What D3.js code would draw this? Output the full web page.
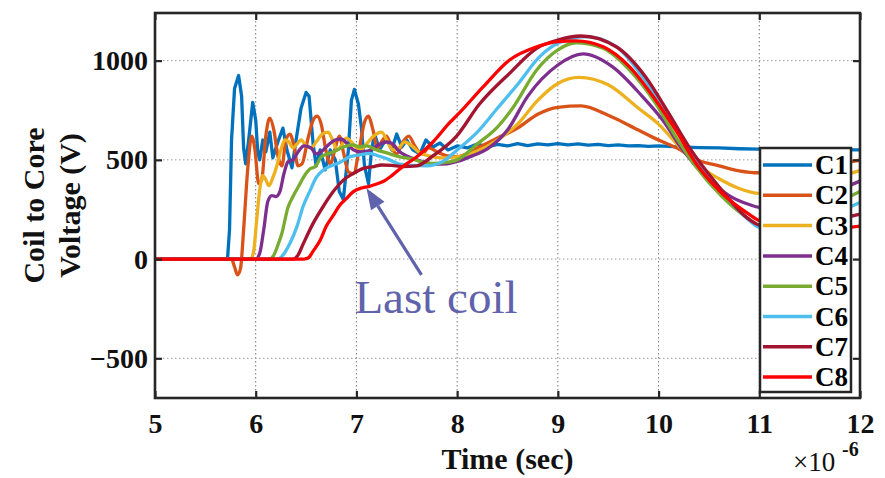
<!DOCTYPE html>
<html>
<head>
<meta charset="utf-8">
<script src="https://cdn.jsdelivr.net/npm/d3@7"></script>
<style>
  body { margin: 0; background: #fff; }
  svg { display: block; }
  text { font-family: "Liberation Serif", "Times New Roman", serif; }
</style>
</head>
<body>
<svg id="chart" width="885" height="478"></svg>
<script>
// time in microseconds, voltage in volts
var c1 = [[5.00,0],[5.72,0],[5.74,150],[5.76,600],[5.79,860],[5.83,925],[5.86,820],[5.88,560],[5.90,480],[5.93,600],[5.97,790],[6.00,700],[6.02,540],[6.04,500],[6.07,600],[6.10,540],[6.14,640],[6.17,510],[6.22,590],[6.27,660],[6.31,550],[6.36,460],[6.41,630],[6.45,760],[6.50,840],[6.53,820],[6.57,580],[6.60,470],[6.64,550],[6.69,450],[6.74,550],[6.79,500],[6.83,340],[6.87,300],[6.92,550],[6.95,800],[6.98,855],[7.02,780],[7.05,660],[7.08,470],[7.12,380],[7.15,550],[7.18,630],[7.23,550],[7.30,610],[7.35,550],[7.40,630],[7.45,565],[7.50,600],[7.56,550],[7.63,530],[7.69,600],[7.76,565],[7.83,585],[7.91,550],[8.0,570],[8.1,560],[8.2,580],[8.3,565],[8.4,578],[8.5,570],[8.6,582],[8.7,572],[8.8,580],[8.9,575],[9.0,582],[9.1,576],[9.2,580],[9.3,574],[9.4,578],[9.5,572],[9.6,575],[9.7,570],[9.8,572],[9.9,568],[10.0,570],[10.2,565],[10.4,562],[10.6,560],[10.8,556],[11.0,554],[11.5,552],[12.0,550]];
var c2 = [[5,0],[5.76,0],[5.79,-40],[5.82,-80],[5.85,-45],[5.88,150],[5.92,450],[5.96,620],[5.99,560],[6.03,380],[6.06,400],[6.10,620],[6.14,710],[6.18,650],[6.22,520],[6.26,470],[6.30,600],[6.34,630],[6.38,570],[6.42,470],[6.46,480],[6.52,610],[6.57,700],[6.61,720],[6.65,680],[6.70,540],[6.74,480],[6.79,560],[6.83,620],[6.87,540],[6.92,440],[6.97,430],[7.03,560],[7.08,690],[7.12,720],[7.16,660],[7.21,560],[7.26,600],[7.30,620],[7.35,560],[7.40,530],[7.46,590],[7.52,620],[7.58,570],[7.65,530],[7.72,560],[7.80,540],[7.90,520],[8.0,516],[8.2,560],[8.4,610],[8.6,660],[8.8,730],[9.0,765],[9.23,772],[9.5,725],[9.8,650],[10.0,600],[10.2,555],[10.4,497],[10.6,470],[10.8,445],[11.0,435],[11.3,445],[11.6,470],[12.0,498]];
var c3 = [[5,0],[5.95,0],[5.98,40],[6.01,200],[6.04,350],[6.07,420],[6.10,400],[6.13,370],[6.17,410],[6.21,470],[6.25,550],[6.29,600],[6.33,590],[6.37,560],[6.41,580],[6.45,600],[6.50,570],[6.55,560],[6.60,590],[6.66,630],[6.72,640],[6.77,590],[6.81,550],[6.86,580],[6.90,610],[6.95,590],[7.00,560],[7.05,555],[7.10,580],[7.17,620],[7.25,640],[7.31,590],[7.36,550],[7.42,560],[7.48,590],[7.55,570],[7.63,535],[7.72,520],[7.85,510],[8.0,515],[8.2,545],[8.4,600],[8.6,680],[8.8,800],[9.0,885],[9.21,916],[9.5,878],[9.8,760],[10.0,680],[10.2,570],[10.4,470],[10.6,405],[10.8,356],[11.0,331],[11.3,330],[11.6,380],[12.0,447]];
var c4 = [[5,0],[6.00,0],[6.04,30],[6.08,150],[6.12,290],[6.16,320],[6.20,315],[6.24,340],[6.28,430],[6.32,490],[6.37,500],[6.42,540],[6.48,570],[6.55,560],[6.60,530],[6.66,545],[6.72,575],[6.79,600],[6.85,605],[6.91,580],[6.97,550],[7.04,540],[7.12,545],[7.20,570],[7.30,590],[7.36,580],[7.42,545],[7.50,520],[7.60,500],[7.70,485],[7.80,478],[7.90,480],[8.0,492],[8.15,520],[8.3,555],[8.5,650],[8.7,820],[9.0,978],[9.25,1034],[9.54,970],[9.84,819],[10.04,701],[10.24,550],[10.47,416],[10.7,320],[10.9,275],[11.0,261],[11.3,255],[11.6,310],[12.0,393]];
var c5 = [[5,0],[6.14,0],[6.18,20],[6.22,70],[6.26,130],[6.32,260],[6.37,315],[6.44,380],[6.49,425],[6.54,455],[6.59,465],[6.65,515],[6.71,530],[6.77,540],[6.87,565],[6.97,575],[7.03,565],[7.10,570],[7.20,550],[7.30,535],[7.43,515],[7.55,505],[7.65,490],[7.76,482],[7.90,488],[8.0,500],[8.2,580],[8.4,665],[8.55,760],[8.79,953],[9.0,1054],[9.18,1090],[9.45,1062],[9.71,953],[9.97,785],[10.17,617],[10.37,466],[10.63,315],[10.9,200],[11.0,168],[11.3,160],[11.6,240],[12.0,340]];
var c6 = [[5,0],[6.22,0],[6.27,20],[6.34,80],[6.41,165],[6.47,265],[6.54,345],[6.60,410],[6.67,448],[6.77,474],[6.83,485],[6.93,515],[7.03,525],[7.13,533],[7.23,518],[7.33,500],[7.43,478],[7.56,472],[7.70,470],[7.85,490],[8.0,550],[8.2,640],[8.4,760],[8.6,880],[8.82,1020],[9.0,1087],[9.28,1121],[9.58,1070],[9.84,919],[10.04,768],[10.24,600],[10.47,433],[10.7,299],[10.9,195],[11.0,160],[11.3,150],[11.6,200],[12.0,285]];
var c7 = [[5,0],[6.37,0],[6.42,20],[6.47,75],[6.57,180],[6.67,265],[6.77,340],[6.87,398],[6.97,432],[7.07,457],[7.17,466],[7.25,474],[7.35,472],[7.46,466],[7.60,470],[7.76,520],[7.99,617],[8.22,780],[8.52,936],[8.79,1062],[9.0,1104],[9.23,1124],[9.58,1070],[9.87,919],[10.1,735],[10.3,567],[10.57,383],[10.9,200],[11.0,171],[11.3,150],[11.6,180],[12.0,227]];
var c8 = [[5,0],[6.48,0],[6.52,5],[6.57,40],[6.64,95],[6.70,165],[6.77,220],[6.84,275],[6.90,305],[6.97,340],[7.05,358],[7.12,365],[7.2,378],[7.27,392],[7.36,424],[7.46,466],[7.6,516],[7.76,590],[7.93,690],[8.0,725],[8.26,869],[8.52,1003],[8.79,1070],[9.0,1096],[9.18,1100],[9.45,1070],[9.71,970],[9.97,802],[10.17,651],[10.37,483],[10.63,332],[10.9,225],[11.0,193],[11.3,160],[11.6,150],[12.0,166]];

var seriesData = [c1, c2, c3, c4, c5, c6, c7, c8];
var seriesNames = ["C1", "C2", "C3", "C4", "C5", "C6", "C7", "C8"];
var seriesColors = ["#0072BD", "#D95319", "#EDB120", "#7E2F8E", "#77AC30", "#4DBEEE", "#A2142F", "#FF0000"];
var xTicks = [5, 6, 7, 8, 9, 10, 11, 12];
var yTicks = [-500, 0, 500, 1000];

// plot box (don't call these top/left: window.top is read-only)
var boxLeft = 155, boxRight = 860, boxTop = 13, boxBottom = 398;
var axisColor = "#262626";

var svg = d3.select("#chart");

var x = d3.scaleLinear().domain([5, 12]).range([boxLeft, boxRight]);
var y = d3.scaleLinear().domain([-700, 1240]).range([boxBottom, boxTop]);

// grid
var grid = svg.append("g");
grid.selectAll(".vgrid")
  .data(xTicks.slice(1, -1))
  .join("line")
  .attr("x1", d => x(d)).attr("x2", d => x(d))
  .attr("y1", boxTop).attr("y2", boxBottom)
  .attr("stroke", "#7a7a7a")
  .attr("stroke-width", 1)
  .attr("stroke-dasharray", "1.5,2.5");
grid.selectAll(".hgrid")
  .data(yTicks)
  .join("line")
  .attr("x1", boxLeft).attr("x2", boxRight)
  .attr("y1", d => y(d)).attr("y2", d => y(d))
  .attr("stroke", "#9a9a9a")
  .attr("stroke-width", 1)
  .attr("stroke-dasharray", "1.5,2.5");

// curves, C1 first so C8 ends on top
var smooth = d3.line()
  .x(d => x(d[0]))
  .y(d => y(d[1]))
  .curve(d3.curveMonotoneX);
var sharp = d3.line()
  .x(d => x(d[0]))
  .y(d => y(d[1]));

svg.append("g")
  .selectAll("path")
  .data(seriesData)
  .join("path")
  .attr("fill", "none")
  .attr("stroke", (d, i) => seriesColors[i])
  .attr("stroke-width", 3.3)
  .attr("stroke-linejoin", "round")
  .attr("d", (d, i) => i === 0 ? sharp(d) : smooth(d));

// annotation
var tip = [x(7.1), y(357)], tail = [x(7.646), y(-80)];
var ang = Math.atan2(tip[1] - tail[1], tip[0] - tail[0]);
var headLen = 21, headHalf = 8;
var base = [tip[0] - headLen * Math.cos(ang), tip[1] - headLen * Math.sin(ang)];
var annColor = "#5f63ab";
svg.append("line")
  .attr("x1", tail[0]).attr("y1", tail[1])
  .attr("x2", base[0]).attr("y2", base[1])
  .attr("stroke", annColor)
  .attr("stroke-width", 3.2);
svg.append("path")
  .attr("d", "M" + tip[0] + "," + tip[1] +
    "L" + (base[0] + headHalf * Math.sin(ang)) + "," + (base[1] - headHalf * Math.cos(ang)) +
    "L" + (base[0] - headHalf * Math.sin(ang)) + "," + (base[1] + headHalf * Math.cos(ang)) + "Z")
  .attr("fill", annColor);
svg.append("text")
  .attr("x", x(6.98))
  .attr("y", y(-272))
  .attr("fill", annColor)
  .style("font-size", "47px")
  .text("Last coil");

// legend
var legend = svg.append("g").attr("transform", "translate(760,148)");
legend.append("rect")
  .attr("width", 91).attr("height", 244)
  .attr("fill", "#fff")
  .attr("stroke", axisColor)
  .attr("stroke-width", 2.5);
var item = legend.selectAll(".item")
  .data(seriesNames)
  .join("g")
  .attr("transform", (d, i) => "translate(0," + (17 + i * 30.3) + ")");
item.append("line")
  .attr("x1", 3).attr("x2", 52)
  .attr("stroke", (d, i) => seriesColors[i])
  .attr("stroke-width", 3.5);
item.append("text")
  .attr("x", 55)
  .attr("dy", "0.34em")
  .style("font-size", "27px")
  .style("font-weight", "bold")
  .text(d => d);

// axes with inward ticks on all four sides
function styleAxis(g) {
  g.select(".domain").remove();
  g.selectAll(".tick line").attr("stroke", axisColor).attr("stroke-width", 2.2);
  g.selectAll(".tick text")
    .attr("fill", "#111")
    .style("font-family", "'Liberation Serif', serif")
    .style("font-size", "28px")
    .style("font-weight", "bold");
}
var fmt = d3.format("d");
svg.append("g")
  .attr("transform", "translate(0," + boxBottom + ")")
  .call(d3.axisBottom(x).tickValues(xTicks).tickFormat(fmt).tickSizeInner(-7).tickSizeOuter(0).tickPadding(15))
  .call(styleAxis);
svg.append("g")
  .attr("transform", "translate(0," + boxTop + ")")
  .call(d3.axisTop(x).tickValues(xTicks).tickSizeInner(-7).tickSizeOuter(0).tickFormat(""))
  .call(styleAxis);
svg.append("g")
  .attr("transform", "translate(" + boxLeft + ",0)")
  .call(d3.axisLeft(y).tickValues(yTicks).tickFormat(fmt).tickSizeInner(-7).tickSizeOuter(0).tickPadding(7))
  .call(styleAxis);
svg.append("g")
  .attr("transform", "translate(" + boxRight + ",0)")
  .call(d3.axisRight(y).tickValues(yTicks).tickSizeInner(-7).tickSizeOuter(0).tickFormat(""))
  .call(styleAxis);

svg.append("rect")
  .attr("x", boxLeft).attr("y", boxTop)
  .attr("width", boxRight - boxLeft).attr("height", boxBottom - boxTop)
  .attr("fill", "none")
  .attr("stroke", axisColor)
  .attr("stroke-width", 2.6);

// labels
svg.append("text")
  .attr("x", (boxLeft + boxRight) / 2)
  .attr("y", 469)
  .attr("text-anchor", "middle")
  .attr("fill", "#111")
  .style("font-size", "30px")
  .style("font-weight", "bold")
  .text("Time (sec)");

var yLab = ["Coil to Core", "Voltage (V)"];
svg.selectAll(".ylab")
  .data(yLab)
  .join("text")
  .attr("transform", (d, i) => "translate(" + (44 + i * 36) + "," + ((boxTop + boxBottom) / 2) + ") rotate(-90)")
  .attr("text-anchor", "middle")
  .attr("fill", "#111")
  .style("font-size", "30px")
  .style("font-weight", "bold")
  .text(d => d);

svg.append("text")
  .attr("x", 793).attr("y", 471)
  .attr("fill", "#111")
  .style("font-size", "27px")
  .text("\u00d710");
svg.append("text")
  .attr("x", 842).attr("y", 456)
  .attr("fill", "#111")
  .style("font-size", "20px")
  .style("font-weight", "bold")
  .text("-6");
</script>
</body>
</html>
